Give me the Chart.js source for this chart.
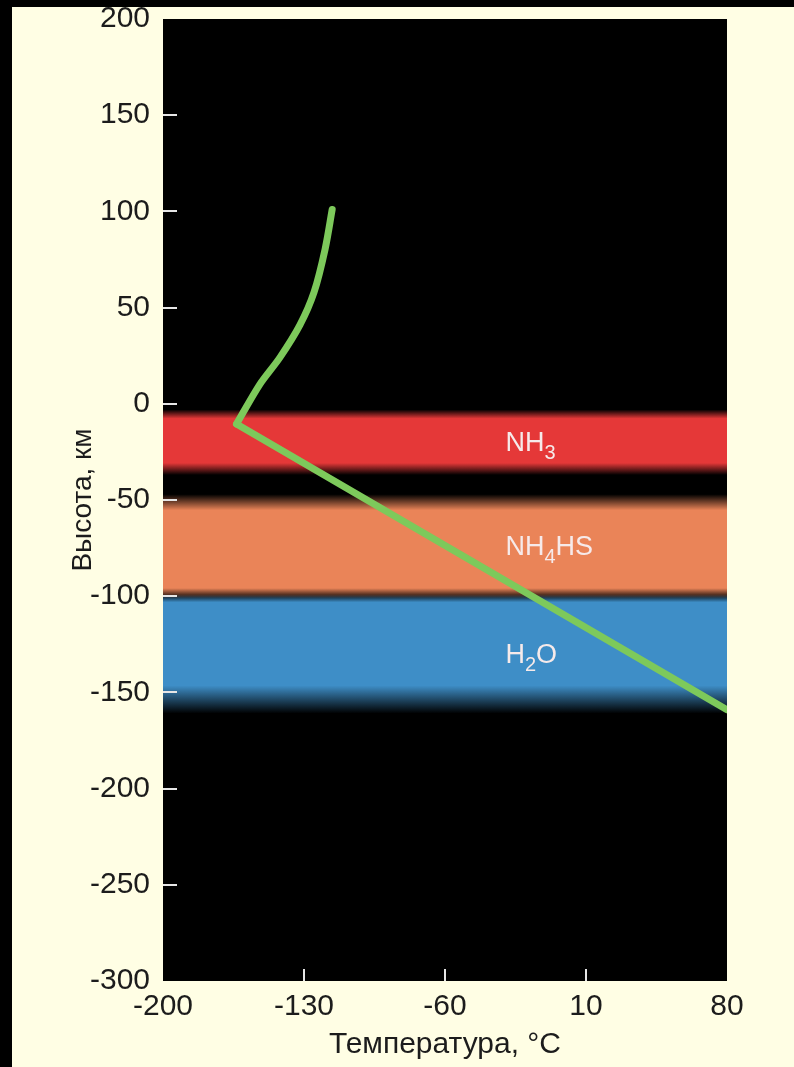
<!DOCTYPE html>
<html>
<head>
<meta charset="utf-8">
<title>Температура и высота</title>
<script src="https://cdn.jsdelivr.net/npm/chart.js@4.4.1/dist/chart.umd.min.js"></script>
<style>
  html, body { margin: 0; padding: 0; background: #000; }
  #caja { position: absolute; left: 12px; top: 7px; width: 782px; height: 1060px; background: #fffee4; }
</style>
</head>
<body>
<div id="caja"><canvas id="grafico"></canvas></div>
<script>
// кривая температуры: изогнутая часть и прямая часть
const curva_temp = [-116, -119.5, -125, -132, -142, -152, -163.5];
const curva_alt = [101, 80.5, 58, 41, 24, 10, -10.5];
const recta_temp = [-163.5, 80];
const recta_alt = [-10.5, -159];

// облачные слои (внешние края, км)
const capa_nombre = [["NH", "3", ""], ["NH", "4", "HS"], ["H", "2", "O"]];
const capa_arriba = [-3, -47, -99];
const capa_abajo = [-37, -101, -161];

// ticks
const ticks_x = [-200, -130, -60, 10, 80];
const ticks_y = [200, 150, 100, 50, 0, -50, -100, -150, -200, -250, -300];

const capa_color = ["rgba(229, 56, 56, 1)", "rgba(234, 132, 88, 1)", "rgba(62, 142, 199, 1)"];
const capa_transp = ["rgba(229, 56, 56, 0)", "rgba(234, 132, 88, 0)", "rgba(62, 142, 199, 0)"];
const capa_difuso = [[9, 12], [16, 10], [8, 28]];

const fuente = "'Liberation Sans', Arial, sans-serif";
const ctx = document.getElementById("grafico").getContext("2d");

degradado = (i) => (c) => {
  const chart = c.chart;
  if (!chart.chartArea || !chart.scales.y) return capa_color[i];
  const y0 = chart.scales.y.getPixelForValue(capa_arriba[i]);
  const y1 = chart.scales.y.getPixelForValue(capa_abajo[i]);
  const h = y1 - y0;
  const g = chart.ctx.createLinearGradient(0, y0, 0, y1);
  g.addColorStop(0, capa_transp[i]);
  g.addColorStop(Math.min(0.45, capa_difuso[i][0] / h), capa_color[i]);
  g.addColorStop(1 - Math.min(0.45, capa_difuso[i][1] / h), capa_color[i]);
  g.addColorStop(1, capa_transp[i]);
  return g;
};

const capas = capa_nombre.map((n, i) => ({
  type: "line",
  data: [
    { x: ticks_x[0], y: capa_arriba[i] },
    { x: ticks_x[ticks_x.length - 1], y: capa_arriba[i] },
  ],
  borderWidth: 0,
  pointRadius: 0,
  backgroundColor: degradado(i),
  fill: { value: capa_abajo[i] },
  order: 5,
}));

const verde = "#7dc95b";

const fondo_negro = {
  id: "fondo_negro",
  beforeDatasetsDraw: (chart) => {
    const a = chart.chartArea;
    const c = chart.ctx;
    c.save();
    c.fillStyle = "#000";
    c.fillRect(a.left, a.top, a.right - a.left, a.bottom - a.top);
    c.restore();
  },
};

const marcas = {
  id: "marcas",
  afterDatasetsDraw: (chart) => {
    const a = chart.chartArea;
    const c = chart.ctx;
    const sx = chart.scales.x;
    const sy = chart.scales.y;
    c.save();
    c.strokeStyle = "#e6e6e6";
    c.lineWidth = 2;
    ticks_y.slice(1, -1).forEach((v) => {
      const p = Math.round(sy.getPixelForValue(v));
      c.beginPath();
      c.moveTo(a.left, p);
      c.lineTo(a.left + 14, p);
      c.stroke();
    });
    ticks_x.slice(1, -1).forEach((v) => {
      const p = Math.round(sx.getPixelForValue(v));
      c.beginPath();
      c.moveTo(p, a.bottom);
      c.lineTo(p, a.bottom - 12);
      c.stroke();
    });

    // подписи слоев
    c.fillStyle = "#f6eaea";
    c.textBaseline = "alphabetic";
    capa_nombre.forEach((n, i) => {
      const medio = sy.getPixelForValue((capa_arriba[i] + capa_abajo[i]) / 2);
      let x = sx.getPixelForValue(-30);
      const base = medio + 9;
      c.font = "27px 'Liberation Sans', Arial, sans-serif";
      c.fillText(n[0], x, base);
      x += c.measureText(n[0]).width;
      c.font = "20px 'Liberation Sans', Arial, sans-serif";
      c.fillText(n[1], x, base + 8);
      x += c.measureText(n[1]).width;
      c.font = "27px 'Liberation Sans', Arial, sans-serif";
      c.fillText(n[2], x, base);
    });
    c.restore();
  },
};

const myChart = new Chart(ctx, {
  type: "line",
  data: {
    datasets: [
      {
        data: curva_temp.map((t, i) => ({ x: t, y: curva_alt[i] })),
        borderColor: verde,
        borderWidth: 7,
        tension: 0.3,
        pointRadius: 0,
        borderCapStyle: "round",
        borderJoinStyle: "round",
        fill: false,
        order: 0,
      },
      {
        data: recta_temp.map((t, i) => ({ x: t, y: recta_alt[i] })),
        borderColor: verde,
        borderWidth: 7,
        tension: 0,
        pointRadius: 0,
        borderCapStyle: "round",
        fill: false,
        order: 0,
      },
      ...capas,
    ],
  },
  options: {
    responsive: true,
    maintainAspectRatio: false,
    animation: false,
    layout: { padding: { left: 0, right: 67, top: 12, bottom: 0 } },
    plugins: { legend: { display: false }, tooltip: { enabled: false } },
    scales: {
      x: {
        type: "linear",
        min: -200,
        max: 80,
        afterBuildTicks: (s) => { s.ticks = ticks_x.map((v) => ({ value: v })); },
        afterFit: (s) => { s.height = 86; s.paddingLeft = 0; s.paddingRight = 0; },
        grid: { display: false, drawTicks: false },
        border: { display: false },
        ticks: { color: "#1c1c1c", padding: 8, maxRotation: 0, font: { family: fuente, size: 30 } },
        title: {
          display: true,
          text: "Температура, °C",
          color: "#1c1c1c",
          font: { family: fuente, size: 30 },
          padding: { top: 0, bottom: 4 },
        },
      },
      y: {
        type: "linear",
        min: -300,
        max: 200,
        afterBuildTicks: (s) => { s.ticks = ticks_y.map((v) => ({ value: v })); },
        afterFit: (s) => { s.width = 151; s.paddingTop = 0; s.paddingBottom = 0; },
        grid: { display: false, drawTicks: false },
        border: { display: false },
        ticks: { color: "#1c1c1c", padding: 13, font: { family: fuente, size: 30 } },
        title: {
          display: true,
          text: "Высота, км",
          color: "#1c1c1c",
          font: { family: fuente, size: 28 },
          padding: { top: 54, bottom: 0 },
        },
      },
    },
  },
  plugins: [fondo_negro, marcas],
});
</script>
</body>
</html>
